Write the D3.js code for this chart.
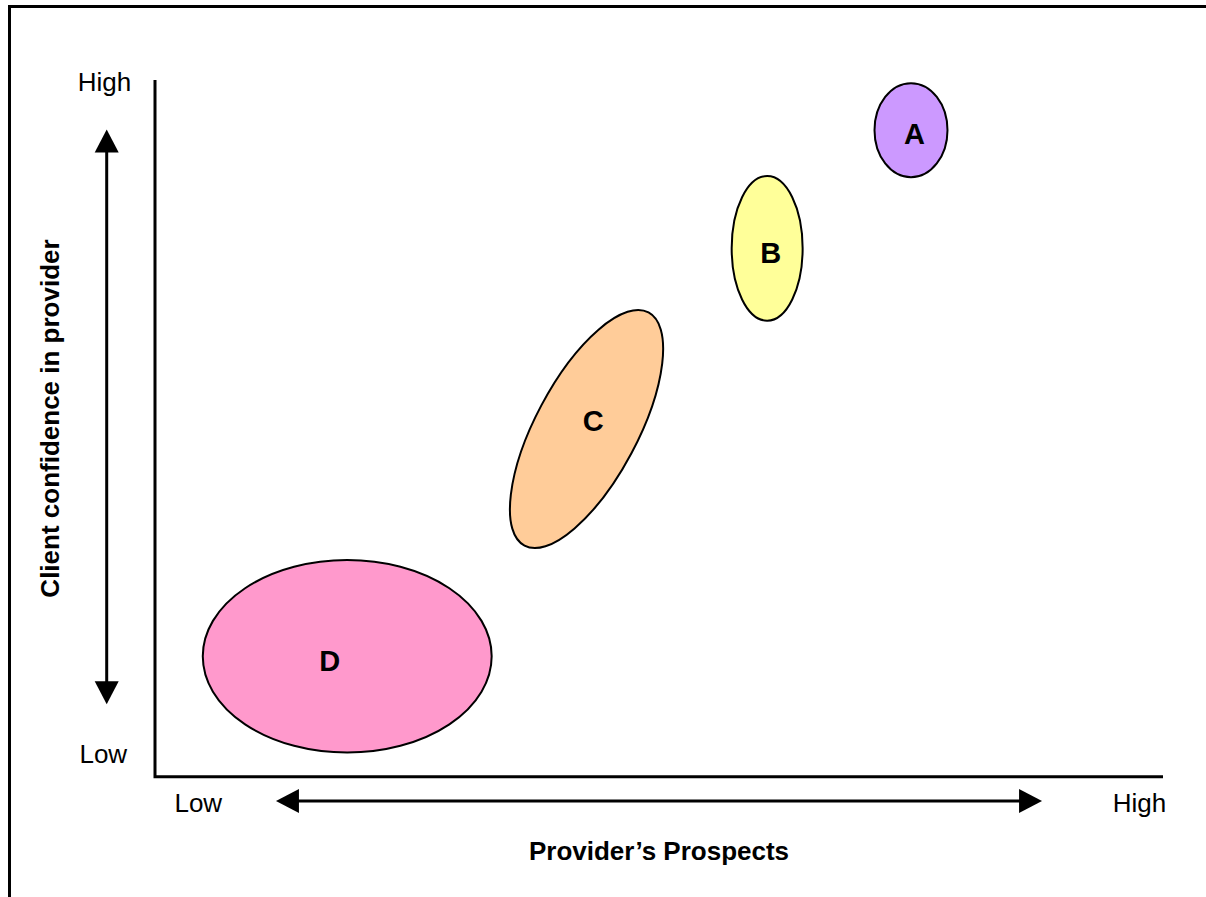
<!DOCTYPE html>
<html><head><meta charset="utf-8">
<script src="https://cdn.jsdelivr.net/npm/d3@7"></script>
<style>html,body{margin:0;padding:0;background:#fff;}svg{display:block;}</style>
</head><body>
<svg id="chart" width="1206" height="897"></svg>
<script>
// ---- data ----
const categories = ["A", "B", "C", "D"];
const centerX = [75.0, 60.73, 42.81, 19.07];   // provider's prospects (0-100)
const centerY = [92.8, 75.84, 49.9, 17.28];    // client confidence (0-100)
const radiusX = [3.62, 3.52, 5.06, 14.33];     // semi-axis (x units)
const radiusY = [6.75, 10.38, 13.1, 13.82];    // semi-axis (y units for A,B,D; x units for C which is rotated)
const tilt = [0, 0, 28, 0];                    // degrees
const labelX = [75.35, 61.08, 43.48, 17.33];
const labelY = [90.8, 73.78, 49.62, 15.17];
const fills = ["#CC99FF", "#FFFF99", "#FFCC99", "#FF99CC"];
const axisLabelsX = ["Low", "High"];
const axisLabelsY = ["Low", "High"];
const xTitle = "Provider\u2019s Prospects";
const yTitle = "Client confidence in provider";
const arrowX = [12.0, 88.0];
const arrowY = [10.4, 92.9];

const svg = d3.select("#chart");
const font = "'Liberation Sans', Arial, sans-serif";

const x = d3.scaleLinear().domain([0, 100]).range([155, 1163]);
const y = d3.scaleLinear().domain([0, 100]).range([776.7, 80]);
const kx = x(1) - x(0);

// frame
svg.append("path").attr("d", "M9.5,900 L9.5,6.5 L1210,6.5")
  .attr("fill", "none").attr("stroke", "#000").attr("stroke-width", 3);

// axes (L shape)
svg.append("path")
  .attr("d", `M${x(0)},${y(100)} L${x(0)},${y(0)} L${x(100)},${y(0)}`)
  .attr("fill", "none").attr("stroke", "#000").attr("stroke-width", 3);

// ellipses
const data = categories.map((c, i) => ({
  c, cx: centerX[i], cy: centerY[i], rx: radiusX[i], ry: radiusY[i],
  t: tilt[i], lx: labelX[i], ly: labelY[i], fill: fills[i]
}));
const g = svg.append("g");
data.forEach(d => {
  const px = x(d.cx), py = y(d.cy);
  let rx, ry;
  if (d.t) { rx = d.rx * kx; ry = d.ry * kx; }
  else { rx = x(d.rx) - x(0); ry = y(0) - y(d.ry); }
  g.append("ellipse")
    .attr("cx", 0).attr("cy", 0).attr("rx", rx).attr("ry", ry)
    .attr("transform", `translate(${px},${py}) rotate(${d.t})`)
    .attr("fill", d.fill).attr("stroke", "#000").attr("stroke-width", 2);
  g.append("text").attr("x", x(d.lx)).attr("y", y(d.ly))
    .attr("text-anchor", "middle").attr("font-family", font)
    .attr("font-weight", "bold").attr("font-size", 29).text(d.c);
});

// arrows
function arrowHead(tipX, tipY, dir) {
  // dir: "left","right","up","down"
  const L = 23, H = 12;
  let pts;
  if (dir === "left") pts = [[tipX, tipY], [tipX + L, tipY - H], [tipX + L, tipY + H]];
  if (dir === "right") pts = [[tipX, tipY], [tipX - L, tipY - H], [tipX - L, tipY + H]];
  if (dir === "up") pts = [[tipX, tipY], [tipX - H, tipY + L], [tipX + H, tipY + L]];
  if (dir === "down") pts = [[tipX, tipY], [tipX - H, tipY - L], [tipX + H, tipY - L]];
  svg.append("polygon").attr("points", pts.map(p => p.join(",")).join(" ")).attr("fill", "#000");
}
const hy = 801;
svg.append("line").attr("x1", x(arrowX[0]) + 10).attr("x2", x(arrowX[1]) - 10)
  .attr("y1", hy).attr("y2", hy).attr("stroke", "#000").attr("stroke-width", 3);
arrowHead(x(arrowX[0]), hy, "left");
arrowHead(x(arrowX[1]), hy, "right");

const vx = 106.7;
svg.append("line").attr("x1", vx).attr("x2", vx)
  .attr("y1", y(arrowY[1]) + 10).attr("y2", y(arrowY[0]) - 10)
  .attr("stroke", "#000").attr("stroke-width", 3);
arrowHead(vx, y(arrowY[1]), "up");
arrowHead(vx, y(arrowY[0]), "down");

// axis end labels
const fs = 26;
svg.append("text").attr("x", 104.5).attr("y", 90.7).attr("text-anchor", "middle")
  .attr("font-family", font).attr("font-size", fs).text(axisLabelsY[1]);
svg.append("text").attr("x", 103.3).attr("y", 762.7).attr("text-anchor", "middle")
  .attr("font-family", font).attr("font-size", fs).text(axisLabelsY[0]);
svg.append("text").attr("x", 198.3).attr("y", 811.7).attr("text-anchor", "middle")
  .attr("font-family", font).attr("font-size", fs).text(axisLabelsX[0]);
svg.append("text").attr("x", 1139.5).attr("y", 811.7).attr("text-anchor", "middle")
  .attr("font-family", font).attr("font-size", fs).text(axisLabelsX[1]);

// titles
svg.append("text").attr("x", 659).attr("y", 860).attr("text-anchor", "middle")
  .attr("font-family", font).attr("font-weight", "bold").attr("font-size", fs).text(xTitle);
svg.append("text").attr("transform", "translate(59,418.5) rotate(-90)")
  .attr("text-anchor", "middle").attr("font-family", font)
  .attr("font-weight", "bold").attr("font-size", fs).text(yTitle);
</script>
</body></html>
